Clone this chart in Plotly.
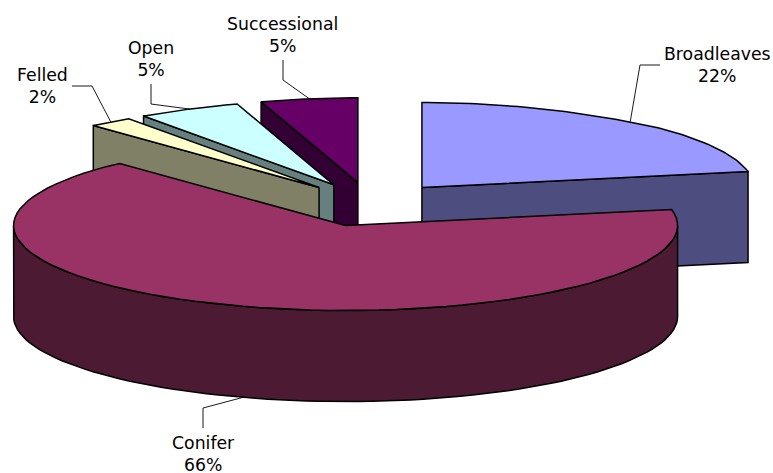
import math
import plotly.graph_objects as go

categories = ["Broadleaves", "Conifer", "Felled", "Open", "Successional"]
values = [22, 66, 2, 5, 5]
top_colors = ["#9999FF", "#993366", "#FFFFCC", "#CCFFFF", "#660066"]
side_colors = ["#4D4D80", "#4D1A33", "#808066", "#668080", "#330033"]
draw_order = ["Successional", "Open", "Felled", "Broadleaves", "Conifer"]

CX, CY = 370.5, 204.5
RX, RY = 332.0, 85.0
DEPTH = 91.0
EXPLODE_X, EXPLODE_Y = 0.243, 0.26
W, H = 773, 473

# label centre and leader elbow points, in pixels
label_pos = {
    "Broadleaves": (717, 65),
    "Conifer": (203, 454),
    "Felled": (42, 86),
    "Open": (151, 58.5),
    "Successional": (282, 34.5),
}
leader_elbows = {
    "Broadleaves": [(660, 65), (640, 65)],
    "Conifer": [(203, 428), (203, 408)],
    "Felled": [(72, 86), (92, 86)],
    "Open": [(151, 84), (151, 104)],
    "Successional": [(283, 60), (283, 80)],
}

total = sum(values)
spans = {}
start = 0.0
for name, v in zip(categories, values):
    spans[name] = (start, start + v / total * 360.0)
    start += v / total * 360.0


def rim(apex, deg, drop=0.0):
    t = math.radians(deg)
    s, c = math.sin(t), math.cos(t)
    rx = RX - 75.0 * max(0.0, c - 0.7)  # back of the pie recedes
    return apex[0] + rx * s, apex[1] - RY * c + drop


def arc(apex, a, b, drop=0.0, n=80):
    return [rim(apex, a + (b - a) * i / n, drop) for i in range(n + 1)]


def apex_of(name):
    a, b = spans[name]
    m = math.radians((a + b) / 2)
    return (CX + EXPLODE_X * RX * math.sin(m), CY - EXPLODE_Y * RY * math.cos(m))


fig = go.Figure()


def poly(points, color, name):
    xs = [p[0] for p in points] + [points[0][0]]
    ys = [p[1] for p in points] + [points[0][1]]
    fig.add_trace(go.Scatter(
        x=xs, y=ys, mode="lines", fill="toself", fillcolor=color,
        line=dict(color="#000000", width=1.5), name=name,
        hoverinfo="name", showlegend=False,
    ))


for name in draw_order:
    i = categories.index(name)
    a, b = spans[name]
    ap = apex_of(name)
    top, side = top_colors[i], side_colors[i]
    ap_low = (ap[0], ap[1] + DEPTH)
    if math.sin(math.radians(a)) < -1e-6:
        p = rim(ap, a)
        poly([ap, p, (p[0], p[1] + DEPTH), ap_low], side, name)
    if math.sin(math.radians(b)) > 1e-6:
        p = rim(ap, b)
        poly([ap, p, (p[0], p[1] + DEPTH), ap_low], side, name)
    lo, hi = max(a, 90.0), min(b, 270.0)
    if hi > lo:
        poly(arc(ap, lo, hi) + arc(ap, hi, lo, DEPTH), side, name)
    poly([ap] + arc(ap, a, b), top, name)

annotations = []
for name, v in zip(categories, values):
    a, b = spans[name]
    m = (a + b) / 2
    drop = DEPTH if 90 < m < 270 else 0.0
    end = rim(apex_of(name), m, drop)
    pts = leader_elbows[name] + [end]
    fig.add_trace(go.Scatter(
        x=[p[0] for p in pts], y=[p[1] for p in pts], mode="lines",
        line=dict(color="#000000", width=0.9), hoverinfo="skip", showlegend=False,
    ))
    lx, ly = label_pos[name]
    annotations.append(dict(
        x=lx, y=ly, xref="x", yref="y", text=f"{name}<br>{v}%", showarrow=False,
        xanchor="center", yanchor="middle", align="center",
        font=dict(family="DejaVu Sans", size=17.3, color="#000000"),
    ))

fig.update_layout(
    width=W, height=H, margin=dict(l=0, r=0, t=0, b=0), autosize=False,
    paper_bgcolor="#FFFFFF", plot_bgcolor="#FFFFFF", showlegend=False,
    xaxis=dict(range=[0, W], visible=False, fixedrange=True),
    yaxis=dict(range=[H, 0], visible=False, fixedrange=True),
    annotations=annotations,
)
fig.write_html(
    "out.html",
    config={"displayModeBar": False},
    post_script="document.body.style.margin='0';document.documentElement.style.overflow='hidden';",
)
